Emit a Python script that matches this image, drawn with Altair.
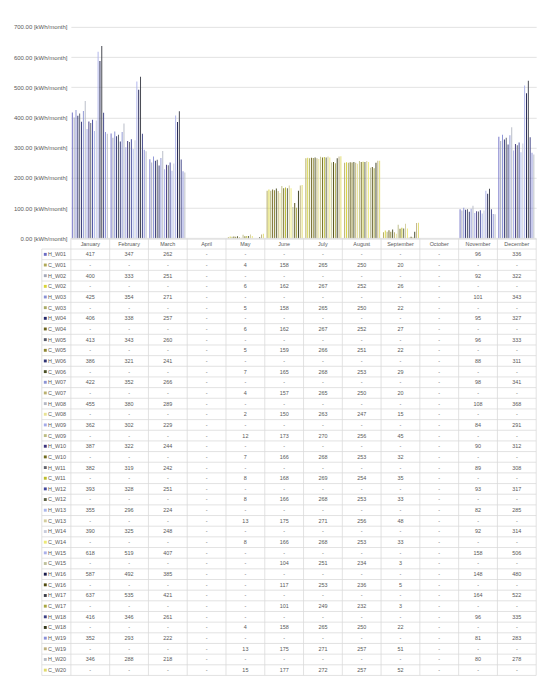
import altair as alt
import pandas as pd

months = ["January", "February", "March", "April", "May", "June",
          "July", "August", "September", "October", "November", "December"]
series = [f"{p}_W{i:02d}" for i in range(1, 21) for p in ("H", "C")]

# heating demand (H_W01..H_W20)
H_jan = [417, 400, 425, 406, 413, 386, 422, 455, 362, 387, 382, 393, 355, 390, 618, 587, 637, 416, 352, 346]
H_feb = [347, 333, 354, 338, 343, 321, 352, 380, 302, 322, 319, 328, 296, 325, 519, 492, 535, 346, 293, 288]
H_mar = [262, 251, 271, 257, 260, 241, 266, 289, 229, 244, 242, 251, 224, 248, 407, 385, 421, 261, 222, 218]
H_nov = [96, 92, 101, 95, 96, 88, 98, 108, 84, 90, 89, 93, 82, 92, 158, 148, 164, 96, 81, 80]
H_dec = [336, 322, 343, 327, 333, 311, 341, 368, 291, 312, 308, 317, 285, 314, 506, 480, 522, 335, 283, 278]
# cooling demand (C_W01..C_W20)
C_may = [4, 6, 5, 6, 5, 7, 4, 2, 12, 7, 8, 8, 13, 8, None, None, None, 4, 13, 15]
C_jun = [158, 162, 158, 162, 159, 165, 157, 150, 173, 166, 168, 166, 175, 166, 104, 117, 101, 158, 175, 177]
C_jul = [265, 267, 265, 267, 266, 268, 265, 263, 270, 268, 269, 268, 271, 268, 251, 253, 249, 265, 271, 272]
C_aug = [250, 252, 250, 252, 251, 253, 250, 247, 256, 253, 254, 253, 256, 253, 234, 236, 232, 250, 257, 257]
C_sep = [20, 26, 22, 27, 22, 29, 20, 15, 45, 32, 35, 33, 48, 33, 3, 5, 3, 22, 51, 52]

H_colors = ["#6c6cc4", "#a4a8b8", "#8890d4", "#24286a", "#545868", "#303474", "#8c94d4", "#b4b8c4",
            "#a4aae8", "#3c327c", "#62646e", "#42489c", "#aab6ea", "#c8ccdc", "#aab0ea", "#1a1c4c",
            "#3a3c46", "#3a3e84", "#8a90d8", "#b8bcc4"]
C_colors = ["#b0a858", "#d8d438", "#a8aa66", "#6a621e", "#8c8430", "#4a5026", "#bab070", "#e8e294",
            "#bcbc84", "#706a1e", "#bcbc2a", "#5a6044", "#d2cc9c", "#ece876", "#bec09c", "#504a10",
            "#a8a640", "#34381c", "#bcb07e", "#e0da6c"]

H_by_month = {"January": H_jan, "February": H_feb, "March": H_mar, "November": H_nov, "December": H_dec}
C_by_month = {"May": C_may, "June": C_jun, "July": C_jul, "August": C_aug, "September": C_sep}

colors = []
for i in range(20):
    colors += [H_colors[i], C_colors[i]]

cells = []
for si, s in enumerate(series):
    k = si // 2
    src = H_by_month if s.startswith("H") else C_by_month
    for mi, m in enumerate(months):
        v = src[m][k] if m in src else None
        cells.append({"series": s, "month": m, "value": v,
                      "label": "-" if v is None else str(v),
                      "xc": mi + 0.5, "yc": si + 1.5})
df = pd.DataFrame(cells)
bar_df = df[df["value"].notna()].copy()

W = 481
BAR_H = 218.6
ROW_H = 11.02
N_ROWS = len(series) + 1
TABLE_BOTTOM = BAR_H + N_ROWS * ROW_H
H = TABLE_BOTTOM
LEG_W = 0.75  # legend column width (in month-column units)

FONT = "Liberation Sans"
TXT = "#595959"
LINE = "#d9d9d9"

color_enc = alt.Color("series:N", scale=alt.Scale(domain=series, range=colors), legend=None)

bars = alt.Chart(bar_df).mark_bar().encode(
    x=alt.X("month:N", sort=months, axis=None,
            scale=alt.Scale(domain=months, paddingInner=0.05, paddingOuter=0.025)),
    xOffset=alt.XOffset("series:N", scale=alt.Scale(domain=series, paddingInner=0, paddingOuter=0)),
    y=alt.Y("value:Q", scale=alt.Scale(domain=[0, 700], range=[BAR_H, 0], nice=False),
            axis=alt.Axis(values=list(range(0, 701, 100)),
                          labelExpr="format(datum.value, '.2f') + ' [kWh/month]'",
                          grid=True, gridColor=LINE, gridWidth=0.8, domain=False, ticks=False,
                          labelFontSize=6.2, labelColor=TXT, labelFont=FONT, labelPadding=4,
                          title=None)),
    color=color_enc,
)


def xs(field):
    return alt.X(f"{field}:Q", scale=alt.Scale(domain=[0, 12], nice=False, zero=False), axis=None)


def ys(field):
    return alt.Y(f"{field}:Q", scale=alt.Scale(domain=[0, N_ROWS], range=[BAR_H, TABLE_BOTTOM],
                                               nice=False, zero=False), axis=None)


# table grid lines
hlines = pd.DataFrame({"x": [0] + [-LEG_W] * N_ROWS, "x2": [12] * (N_ROWS + 1),
                       "y": list(range(0, N_ROWS + 1))})
vlines = pd.DataFrame({"x": [-LEG_W] + list(range(0, 13)),
                       "y": [1] + [0] * 13, "y2": [N_ROWS] * 14})

h_rules = alt.Chart(hlines).mark_rule(color=LINE, strokeWidth=0.8).encode(
    x=xs("x"), x2="x2:Q", y=ys("y"))
v_rules = alt.Chart(vlines).mark_rule(color=LINE, strokeWidth=0.8).encode(
    x=xs("x"), y=ys("y"), y2="y2:Q")

head_df = pd.DataFrame({"month": months, "xc": [i + 0.5 for i in range(12)], "yc": [0.5] * 12})
header = alt.Chart(head_df).mark_text(font=FONT, fontSize=5.6, color=TXT).encode(
    x=xs("xc"), y=ys("yc"), text="month:N")

values_txt = alt.Chart(df).mark_text(font=FONT, fontSize=5.6, color=TXT).encode(
    x=xs("xc"), y=ys("yc"), text="label:N")

leg_df = pd.DataFrame({"series": series,
                       "xs": [-LEG_W + 0.09] * len(series),
                       "xt": [-LEG_W + 0.16] * len(series),
                       "yc": [i + 1.5 for i in range(len(series))]})
swatch = alt.Chart(leg_df).mark_square(size=9, opacity=1).encode(
    x=xs("xs"), y=ys("yc"), color=color_enc)
leg_txt = alt.Chart(leg_df).mark_text(font=FONT, fontSize=5.6, color=TXT, align="left").encode(
    x=xs("xt"), y=ys("yc"), text="series:N")

chart = alt.layer(bars, h_rules, v_rules, header, values_txt, swatch, leg_txt).resolve_scale(
    x="independent", y="independent"
).properties(width=W, height=H).configure_view(stroke=None)

chart.save("out.html", embed_options={"renderer": "svg", "actions": False})
